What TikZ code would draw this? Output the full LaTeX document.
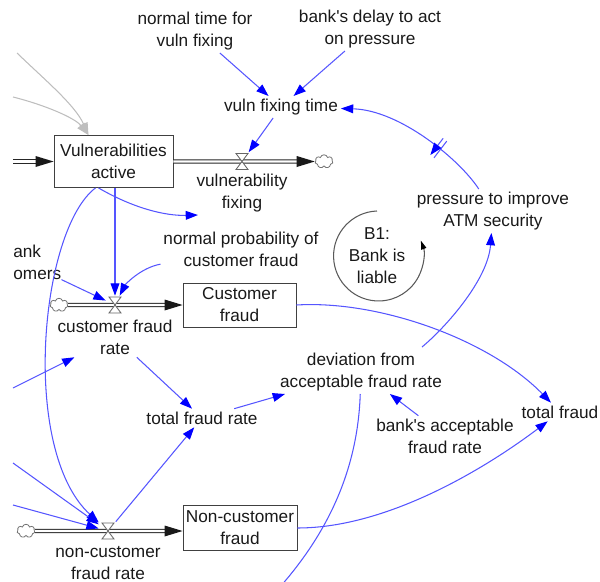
\documentclass[tikz,border=0pt]{standalone}
\usepackage{fontspec}
\setmainfont{Liberation Sans}
\usetikzlibrary{arrows.meta,shapes.symbols,decorations.markings}
\definecolor{linkblue}{RGB}{85,85,255}
\definecolor{tipblue}{RGB}{0,0,255}
\definecolor{ghost}{RGB}{190,190,190}
\begin{document}
\begin{tikzpicture}[x=0.02cm, y=-0.02cm,
  every node/.style={font=\fontsize{9.8pt}{12.5pt}\selectfont, text=black!90},
  lbl/.style={align=center, inner sep=1.5pt},
  stock/.style={draw=black!75, line width=0.5pt, fill=white, align=center, inner sep=1pt},
  flowv/.style={inner sep=0pt, minimum width=0.36cm, minimum height=0.36cm},
  cloudy/.style={cloud, cloud puffs=7, aspect=1.3, draw=black!55, line width=0.45pt,
    minimum width=0.36cm, minimum height=0.27cm, inner sep=0pt},
  conn/.style={draw=linkblue, line width=0.6pt, -{Triangle[length=7pt,width=5pt,color=tipblue]}},
  connline/.style={draw=linkblue, line width=0.6pt},
  gconn/.style={draw=ghost, line width=0.6pt, -{Triangle[length=7pt,width=5pt]}},
  pipe/.style={draw=black!85, line width=0.5pt, double=white, double distance=1.3pt},
  valveline/.style={draw=black!60, fill=white, line width=0.5pt},
  loopline/.style={draw=black!65, line width=0.6pt, -{Triangle[length=5pt,width=3pt,color=black]}},
]
\path[use as bounding box] (0,0) rectangle (600,582);
\clip (0,0) rectangle (600,582);

% ---- variables, stocks, valves and clouds ----
\node[lbl] (ntime)  at (195,31)  {normal time for\\vuln fixing};
\node[lbl] (bdelay) at (370,29)  {bank\textquotesingle s delay to act\\on pressure};
\node[lbl] (vft)    at (281,107) {vuln fixing time};
\node[stock, minimum width=2.38cm, minimum height=1.04cm] (va) at (113.5,161.5) {Vulnerabilities\\active};
\node[flowv]  (v1) at (242,161.5) {};
\node[cloudy] (c1) at (324,161.5) {};
\node[lbl] (vfix) at (242,193) {vulnerability\\fixing};
\node[lbl] (ptis) at (493,211) {pressure to improve\\ATM security};
\node[lbl] (b1)   at (377,256) {B1:\\Bank is\\liable};
\node[lbl] (npcf) at (241,249) {normal probability of\\customer fraud};
\node[lbl, align=left, anchor=west, inner sep=0pt] (bc) at (13,262) {ank\\omers};
\node[flowv]  (v2) at (115,305) {};
\node[cloudy] (c2) at (59,305) {};
\node[lbl] (cfr) at (115,337) {customer fraud\\rate};
\node[stock, minimum width=2.26cm, minimum height=0.88cm] (cf) at (239.5,305) {Customer\\fraud};
\node[lbl] (tfr)  at (202,418) {total fraud rate};
\node[lbl] (dev)  at (361,372) {deviation from\\acceptable fraud rate};
\node[lbl] (bafr) at (445,436) {bank\textquotesingle s acceptable\\fraud rate};
\node[lbl] (tf)   at (560,412) {total fraud};
\node[stock, minimum width=2.28cm, minimum height=0.9cm] (ncf) at (240,528) {Non-customer\\fraud};
\node[flowv]  (v3) at (108,531) {};
\node[cloudy] (c3) at (26,531) {};
\node[lbl] (ncfr) at (108,563) {non-customer\\fraud rate};

% free ends of links coming from outside the view
\coordinate (inflow) at (13,161.5);
\coordinate (g1) at (17,53);
\coordinate (g2) at (13,97);
\coordinate (l1) at (13,388);
\coordinate (l2) at (13,463);
\coordinate (l3) at (13,505);
\coordinate (offb) at (268,600);
\coordinate (ncfin) at (v3 -| ncf.west);

% ---- flow pipes ----
\draw[pipe] (inflow) -- ([shift={(-16,0)}]va.west);
\fill[black!90] (va.west) -- ++(-18,-5.5) -- ++(0,11) -- cycle;
\draw[pipe] (va.east) -- ([shift={(-16,0)}]c1.west);
\fill[black!90] (c1.west) -- ++(-18,-5.5) -- ++(0,11) -- cycle;
\draw[pipe] (c2.east) -- ([shift={(-16,0)}]cf.west);
\fill[black!90] (cf.west) -- ++(-18,-5.5) -- ++(0,11) -- cycle;
\draw[pipe] (c3.east) -- ([shift={(-16,0)}]ncfin);
\fill[black!90] (ncfin) -- ++(-18,-5.5) -- ++(0,11) -- cycle;
\foreach \v in {v1,v2,v3}
  \draw[valveline] ([shift={(-6,-8)}]\v.center) -- ([shift={(6,-8)}]\v.center)
    -- ([shift={(-6,8)}]\v.center) -- ([shift={(6,8)}]\v.center) -- cycle;

% ---- information links ----
\draw[gconn] (g1) .. controls (45,80) and (75,105) .. ([shift={(-25,0)}]va.north);
\draw[gconn] (g2) .. controls (45,105) and (75,118) .. ([shift={(-25,0)}]va.north);
\draw[conn] (ntime) -- (vft);
\draw[conn] (bdelay) -- (vft);
\draw[conn] (vft) -- (v1);
\draw[conn, postaction={decorate, decoration={markings, mark=at position 0.35 with
    {\draw[linkblue, line width=0.6pt] (-1.3pt,-6pt) -- (-1.3pt,6pt) (1.3pt,-6pt) -- (1.3pt,6pt);}}}]
  (ptis) .. controls (460,160) and (400,110) .. (vft);
\draw[conn] ([shift={(-15,0)}]va.south) .. controls (133,208) and (165,216) .. ([shift={(-43,-34)}]npcf.center);
\draw[conn] (va.south -| v2) -- (v2);
\draw[conn] (npcf) .. controls (140,268) and (125,285) .. (v2);
\draw[conn] (bc.south east) -- (v2);
\draw[conn] (cf.east) .. controls (380,300) and (490,340) .. (tf);
\draw[conn] (cfr) -- (tfr);
\draw[conn] (tfr) -- (dev);
\draw[conn] (bafr) -- (dev);
\draw[conn] ([shift={(61,-25)}]dev.center) .. controls (445,328) and (488,280) .. (ptis);
\draw[connline] (dev) .. controls (358,460) and (335,530) .. (offb);
\draw[conn] (ncf.east) .. controls (390,528) and (490,465) .. (tf);
\draw[conn] ([shift={(-18,0)}]va.south) .. controls (40,230) and (20,450) .. (v3);
\draw[conn] (l1) -- (cfr);
\draw[conn] (l2) -- (v3);
\draw[conn] (l3) -- (v3);
\draw[conn] (v3) -- (tfr);

% ---- balancing loop marker ----
\draw[loopline] ([shift={(0,-45)}]b1.center) arc[start angle=268, end angle=-20, radius=45];
\end{tikzpicture}
\end{document}
